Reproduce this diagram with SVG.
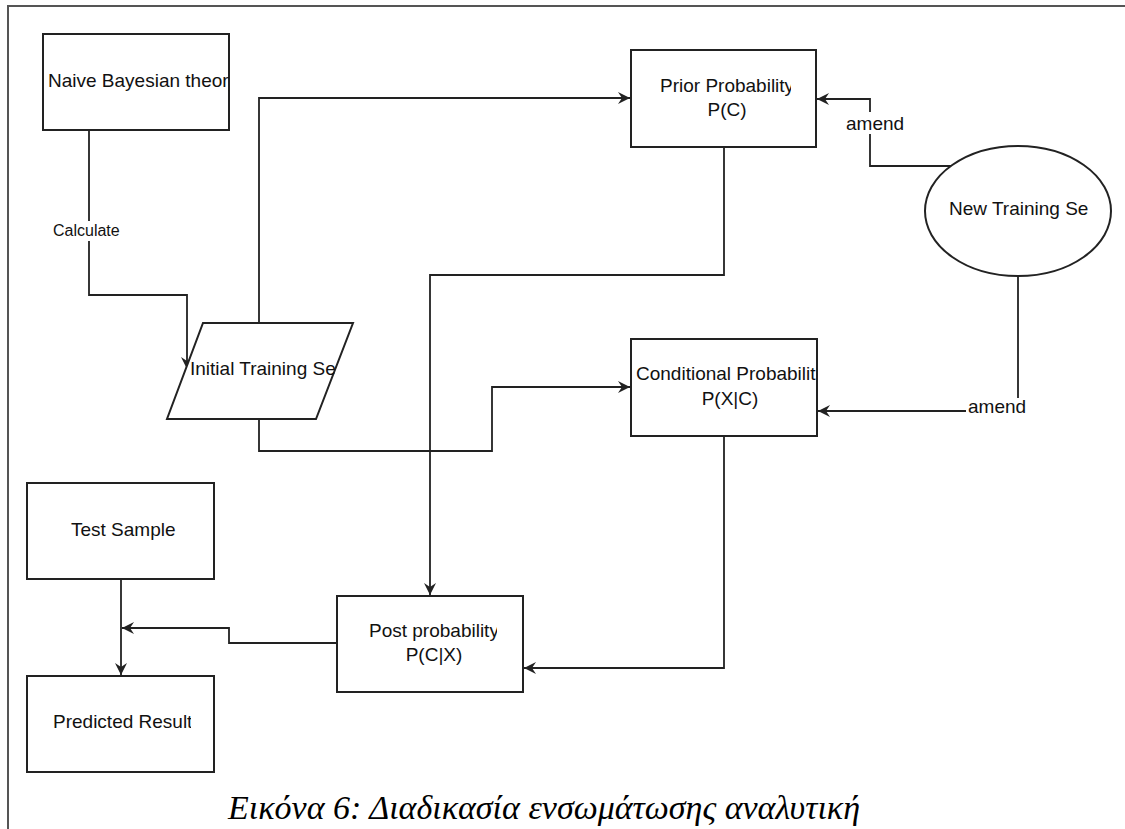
<svg xmlns="http://www.w3.org/2000/svg" width="1125" height="829" viewBox="0 0 1125 829">
<style>
.box{fill:#fff;stroke:#222;stroke-width:2}
.edge{fill:none;stroke:#222;stroke-width:1.8}
.t{font-family:"Liberation Sans",Arial,sans-serif;font-size:19px;fill:#111}
.lbl{font-family:"Liberation Sans",Arial,sans-serif;font-size:16px;fill:#111}
.frame{fill:none;stroke:#555;stroke-width:2}
.cap{font-family:"Liberation Serif","Times New Roman",serif;font-style:italic;font-size:34px;fill:#000}
</style>
<defs>
<marker id="arr" markerUnits="userSpaceOnUse" markerWidth="14" markerHeight="14" refX="12" refY="7" orient="auto">
<path d="M0,1 L12,7 L0,13 L4,7 Z" fill="#222"/>
</marker>
<clipPath id="cNaive"><rect x="43" y="34" width="186" height="96"/></clipPath>
<clipPath id="cPrior"><rect x="631" y="50" width="160" height="97"/></clipPath>
<clipPath id="cNew"><rect x="925" y="146" width="165" height="130"/></clipPath>
<clipPath id="cInit"><rect x="167" y="323" width="168" height="96"/></clipPath>
<clipPath id="cCond"><rect x="631" y="339" width="186" height="97"/></clipPath>
<clipPath id="cPost"><rect x="337" y="596" width="160" height="96"/></clipPath>
<clipPath id="cPred"><rect x="27" y="676" width="164" height="96"/></clipPath>
</defs>
<rect width="1125" height="829" fill="#fff"/>
<path class="frame" d="M8,829 L8,6 L1125,6"/>

<g id="connectors">
<path class="edge" d="M89,130 L89,295 L187,295 L187,369" marker-end="url(#arr)"/>
<path class="edge" d="M259,323 L259,98 L630,98" marker-end="url(#arr)"/>
<path class="edge" d="M259,419 L259,451 L492,451 L492,387 L630,387" marker-end="url(#arr)"/>
<path class="edge" d="M724,147 L724,275 L430,275 L430,595" marker-end="url(#arr)"/>
<path class="edge" d="M724,436 L724,668 L524,668" marker-end="url(#arr)"/>
<path class="edge" d="M337,643 L229,643 L229,628 L122,628" marker-end="url(#arr)"/>
<path class="edge" d="M121,579 L121,675" marker-end="url(#arr)"/>
<path class="edge" d="M952,166 L870,166 L870,99 L817,99" marker-end="url(#arr)"/>
<path class="edge" d="M1018,276 L1018,411 L818,411" marker-end="url(#arr)"/>
<rect x="50" y="221" width="74" height="20" fill="#fff"/>
<text class="lbl" x="53" y="236">Calculate</text>
<rect x="844" y="112" width="62" height="22" fill="#fff"/>
<text class="t" x="846" y="130">amend</text>
<rect x="966" y="398" width="64" height="20" fill="#fff"/>
<text class="t" x="968" y="413">amend</text>
</g>

<g id="naive">
<rect class="box" x="43" y="34" width="186" height="96"/>
<text class="t" x="48" y="87" clip-path="url(#cNaive)">Naive Bayesian theory</text>
</g>
<g id="prior">
<rect class="box" x="631" y="50" width="185" height="97"/>
<text class="t" x="660" y="92" clip-path="url(#cPrior)">Prior Probability</text>
<text class="t" x="727" y="116" text-anchor="middle">P(C)</text>
</g>
<g id="newset">
<ellipse class="box" cx="1018" cy="211" rx="93" ry="65"/>
<text class="t" x="949" y="215" clip-path="url(#cNew)">New Training Se</text>
</g>
<g id="initial">
<path class="box" d="M203,323 L353,323 L316,419 L167,419 Z"/>
<text class="t" x="190" y="375" clip-path="url(#cInit)">Initial Training Se</text>
</g>
<g id="conditional">
<rect class="box" x="631" y="339" width="186" height="97"/>
<text class="t" x="636" y="380" clip-path="url(#cCond)">Conditional Probabilit</text>
<text class="t" x="730" y="405" text-anchor="middle">P(X|C)</text>
</g>
<g id="test">
<rect class="box" x="27" y="483" width="187" height="96"/>
<text class="t" x="71" y="536">Test Sample</text>
</g>
<g id="post">
<rect class="box" x="337" y="596" width="186" height="96"/>
<text class="t" x="369" y="637" clip-path="url(#cPost)">Post probability</text>
<text class="t" x="434" y="661" text-anchor="middle">P(C|X)</text>
</g>
<g id="predicted">
<rect class="box" x="27" y="676" width="187" height="96"/>
<text class="t" x="53" y="728" clip-path="url(#cPred)">Predicted Result</text>
</g>
<text class="cap" x="228" y="819">Εικόνα 6: Διαδικασία ενσωμάτωσης αναλυτική</text>
</svg>
